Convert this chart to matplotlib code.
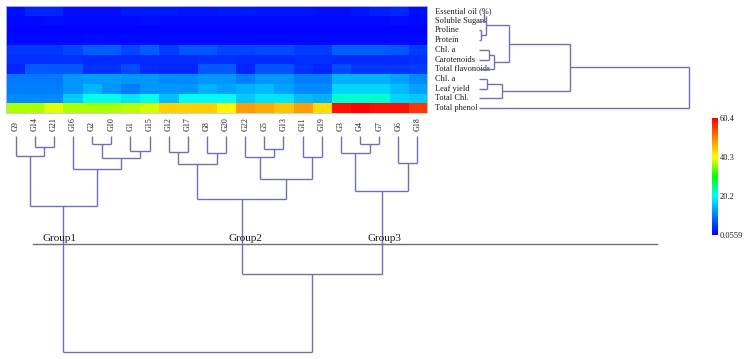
import numpy as np
import matplotlib
matplotlib.use("Agg")
import matplotlib.pyplot as plt
from matplotlib.colors import LinearSegmentedColormap

plt.rcParams['font.family'] = ['Liberation Serif', 'DejaVu Serif']

# ---------------- data ----------------
genotypes = ["G9", "G14", "G21", "G16", "G2", "G10", "G1", "G15", "G12", "G17", "G8",
             "G20", "G22", "G5", "G13", "G11", "G19", "G3", "G4", "G7", "G6", "G18"]
traits = ["Essential oil (%)", "Soluble Sugars", "Proline", "Protein", "Chl. a",
          "Carotenoids", "Total flavonoids", "Chl. a", "Leaf yield", "Total Chl.", "Total phenol"]

essential_oil = [1.0, 3.0, 3.0, 1.0, 1.0, 1.0, 2.0, 2.0, 2.0, 1.5, 1.5, 2.0, 2.0, 1.5, 1.5, 1.5, 1.0, 1.0, 1.5, 2.5, 3.0, 1.0]
soluble_sugars = [0.8, 0.8, 1.0, 0.8, 0.8, 0.8, 0.8, 1.0, 0.8, 0.8, 0.8, 0.8, 0.8, 0.8, 0.8, 0.8, 0.8, 0.8, 0.8, 0.8, 1.0, 0.8]
proline = [0.3, 0.3, 0.3, 0.3, 0.3, 0.3, 0.3, 0.3, 0.3, 0.3, 0.3, 0.3, 0.3, 0.3, 0.3, 0.3, 0.3, 0.3, 0.3, 0.3, 0.3, 0.3]
protein = [0.8, 0.8, 0.8, 0.8, 1.0, 0.8, 0.8, 0.8, 0.8, 0.8, 0.8, 0.8, 0.8, 0.8, 0.8, 0.8, 0.8, 0.8, 0.8, 0.8, 0.8, 0.8]
chl_a = [4.5, 4.5, 4.5, 5.5, 7.5, 7.5, 5.5, 7.5, 5.0, 7.0, 7.0, 5.5, 5.5, 6.0, 6.0, 5.0, 5.0, 7.5, 7.5, 7.5, 7.0, 5.0]
carotenoids = [4.0, 4.0, 4.0, 4.0, 3.5, 3.5, 3.5, 3.5, 3.5, 3.5, 4.0, 4.0, 3.5, 3.5, 3.5, 4.0, 4.0, 3.5, 3.5, 3.5, 3.5, 4.0]
total_flavonoids = [3.0, 7.0, 7.0, 7.0, 4.0, 4.0, 6.0, 3.5, 3.0, 3.0, 7.0, 7.0, 3.0, 6.5, 6.5, 4.0, 3.0, 6.0, 4.5, 4.5, 4.5, 5.0]
chl_a2 = [9.5, 9.5, 9.5, 12.0, 12.5, 12.5, 12.0, 12.0, 11.0, 11.0, 12.0, 12.0, 10.0, 12.0, 12.0, 10.0, 10.0, 14.0, 14.0, 14.0, 13.0, 11.0]
leaf_yield = [10.0, 10.0, 10.0, 12.0, 14.5, 12.0, 10.0, 12.0, 12.0, 12.0, 14.0, 13.0, 14.0, 15.0, 13.0, 11.0, 11.0, 17.0, 17.0, 17.0, 15.0, 13.0]
total_chl = [11.0, 11.0, 11.0, 16.0, 21.0, 21.0, 18.0, 21.0, 15.0, 20.0, 20.0, 20.0, 16.0, 18.0, 18.0, 15.0, 14.0, 22.0, 22.0, 22.0, 17.0, 16.0]
total_phenol = [37.0, 37.0, 39.0, 37.0, 37.0, 37.0, 37.5, 38.5, 44.0, 44.0, 44.0, 41.0, 48.0, 47.0, 45.0, 48.0, 43.0, 59.0, 60.0, 59.0, 59.0, 56.0]

vmin, vmax = 0.0559, 60.4
cbar_ticks = [0.0559, 20.2, 40.3, 60.4]
cbar_ticklabels = ["0.0559", "20.2", "40.3", "60.4"]

# column linkage (leaf indices in display order; new nodes numbered from 22), heights = distance
col_links = [(1, 2, 10.7), (0, 22, 19.7), (4, 5, 8.3), (6, 7, 14.7), (24, 25, 22.3),
             (3, 26, 32.7), (23, 27, 70.0), (8, 9, 15.7), (10, 11, 17.3), (29, 30, 28.0),
             (13, 14, 13.3), (12, 32, 21.3), (15, 16, 20.7), (33, 34, 43.0), (31, 35, 63.0),
             (18, 19, 8.0), (17, 37, 16.7), (20, 21, 27.3), (38, 39, 54.7), (36, 40, 138.0),
             (28, 41, 215.7)]
group_nodes = {"Group1": 28, "Group2": 36, "Group3": 40}
group_cut = 108.0

# row linkage (new nodes numbered from 11)
row_links = [(0, 1, 5.3), (2, 3, 2.0), (11, 12, 7.0), (4, 5, 10.0), (14, 6, 15.0),
             (13, 15, 30.0), (7, 8, 8.0), (17, 9, 23.0), (16, 18, 91.0), (19, 10, 210.0)]

data = np.array([essential_oil, soluble_sugars, proline, protein, chl_a, carotenoids,
                 total_flavonoids, chl_a2, leaf_yield, total_chl, total_phenol])

# ---------------- figure ----------------
W, H = 744, 359
fig = plt.figure(figsize=(W / 100, H / 100), dpi=100)


def box(l, t, w, h):
    return [l / W, 1 - (t + h) / H, w / W, h / H]


cmap = LinearSegmentedColormap.from_list(
    "bcgyr", [(0.0, "#0000ff"), (1 / 3, "#00ffff"), (0.5, "#00ff00"), (2 / 3, "#ffff00"), (1.0, "#ff0000")])

line_col = "#6f6fb6"
text_col = "#1a1a1a"

# heatmap
axh = fig.add_axes(box(6, 6, 421, 107))
im = axh.imshow(data, cmap=cmap, vmin=vmin, vmax=vmax, aspect="auto", interpolation="nearest")
axh.set_xticks([])
axh.set_yticks([])
for s in axh.spines.values():
    s.set_color("#c8c8c8")
    s.set_linewidth(0.6)


def dendro(ax, links, n, orient, zarm=2, zcon=2):
    pos = {i: float(i) for i in range(n)}
    hgt = {i: 0.0 for i in range(n)}
    for k, (a, b, h) in enumerate(links):
        node = n + k
        xa, xb = pos[a], pos[b]
        if orient == "down":
            ax.plot([xa, xa], [hgt[a], h], color=line_col, lw=1.0, zorder=zarm, solid_capstyle="butt")
            ax.plot([xb, xb], [hgt[b], h], color=line_col, lw=1.0, zorder=zarm, solid_capstyle="butt")
            ax.plot([xa, xb], [h, h], color=line_col, lw=1.0, zorder=zcon, solid_capstyle="butt")
        else:
            ax.plot([hgt[a], h], [xa, xa], color=line_col, lw=1.0, zorder=zarm, solid_capstyle="butt")
            ax.plot([hgt[b], h], [xb, xb], color=line_col, lw=1.0, zorder=zcon, solid_capstyle="butt")
            ax.plot([h, h], [xa, xb], color=line_col, lw=1.0, zorder=zcon, solid_capstyle="butt")
        pos[node] = (xa + xb) / 2
        hgt[node] = h
    return pos, hgt


# column dendrogram
axc = fig.add_axes(box(6, 136, 421, 220))
axc.set_xlim(-0.5, len(genotypes) - 0.5)
axc.set_ylim(220, 0)
axc.axis("off")
cpos, chgt = dendro(axc, col_links, len(genotypes), "down")
for i, g in enumerate(genotypes):
    axc.annotate(g, xy=(i, 0), xytext=(0, 3.5), textcoords="offset points", rotation=90,
                 ha="center", va="bottom", fontsize=5.8, color=text_col, annotation_clip=False)
# group cut line
axc.plot([0.9, 33.5], [group_cut, group_cut], color="#707070", lw=1.0, clip_on=False, zorder=1)
group_shift = {"Group1": -0.2, "Group2": 0.2, "Group3": 0.15}
for name, node in group_nodes.items():
    axc.text(cpos[node] + group_shift[name], group_cut - 3, name, ha="center", va="baseline",
             fontsize=8, color=text_col, clip_on=False, zorder=3)

# row dendrogram + labels
axr = fig.add_axes(box(479, 6, 221, 107))
axr.set_xlim(0, 221)
axr.set_ylim(len(traits) - 0.5, -0.5)
axr.axis("off")
dendro(axr, row_links, len(traits), "right", zarm=1, zcon=3)
for i, t in enumerate(traits):
    axr.text(-44, i, t, ha="left", va="center", fontsize=6, color=text_col, clip_on=False,
             zorder=2, bbox=dict(facecolor="white", edgecolor="none", pad=0.6))

# colorbar
cax = fig.add_axes(box(712, 118, 6, 117))
cb = fig.colorbar(im, cax=cax, ticks=cbar_ticks)
cb.set_ticklabels(cbar_ticklabels)
cb.outline.set_visible(False)
cax.tick_params(length=0, pad=1.5, labelsize=6, colors=text_col)

fig.savefig("out.png", dpi=100)
